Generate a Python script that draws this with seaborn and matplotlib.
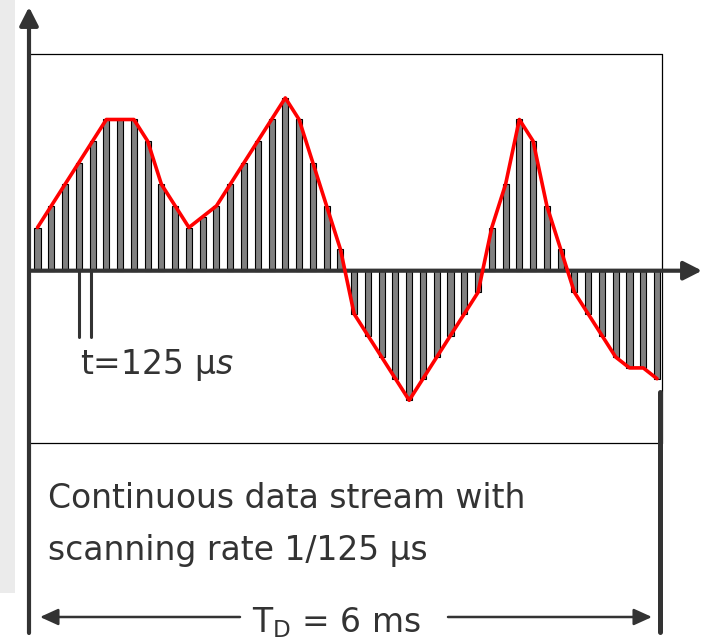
import numpy as np
import matplotlib
matplotlib.use("Agg")
import matplotlib.pyplot as plt
import seaborn as sns
from matplotlib.patches import Rectangle

# Sample values of the scanned signal (one bar every 125 us), in grid units
samples = [2, 3, 4, 5, 6, 7, 7, 7, 6, 4, 3, 2, 2.5, 3, 4, 5, 6, 7, 8, 7, 5, 3, 1,
           -2, -3, -4, -5, -6, -5, -4, -3, -2, -1,
           2, 4, 7, 6, 3, 1,
           -1, -2, -3, -4, -4.5, -4.5, -5]
sample_idx = list(range(len(samples)))

label_tick = "t=125 μ$\\mathit{s}$"
label_stream = ["Continuous data stream with", "scanning rate 1/125 μs"]
label_span = "T$_\\mathrm{D}$ = 6 ms"

DARK = "#333333"
W, H = 702, 642

sns.set_style("white")
plt.rcParams["mathtext.fontset"] = "dejavusans"
plt.rcParams["font.family"] = ["DejaVu Sans"]

fig = plt.figure(figsize=(W / 100, H / 100), dpi=100)
ax = fig.add_axes([0, 0, 1, 1])
ax.axis("off")


def P(x, y):
    # pixel position (from top-left) -> axes fraction
    return (x / W, 1 - y / H)


# bars + red envelope
sns.barplot(x=sample_idx, y=samples, ax=ax, color="#808080", saturation=1,
            edgecolor="black", linewidth=0.8, width=0.44, zorder=2)
sns.lineplot(x=sample_idx, y=samples, ax=ax, color="red", lw=2.6, zorder=5)

# map data units onto the picture: first bar at 37.5 px, 13.77 px apart,
# baseline at 270.7 px, 21.6 px per unit
x0, dx, base, dy = 37.5, 13.767, 270.7, 21.6
ax.set_xlim(-x0 / dx, (W - x0) / dx)
ax.set_ylim(-(H - base) / dy, base / dy)

tr = ax.transAxes

# light grey strip on the left
ax.add_patch(Rectangle(P(0, 593), 15 / W, 593 / H, transform=tr,
                       facecolor="#ebebeb", edgecolor="none", zorder=0))

# thin frame
for (xa, ya), (xb, yb) in [((29, 54), (662, 54)), ((662, 54), (662, 443)),
                           ((29, 443), (662, 443))]:
    ax.plot(*zip(P(xa, ya), P(xb, yb)), transform=tr, color="black", lw=0.9, zorder=3)

# axes arrows
arrow_kw = dict(arrowstyle="-|>,head_length=0.55,head_width=0.28", color=DARK,
                lw=3, shrinkA=0, shrinkB=0, mutation_scale=20)
ax.annotate("", xy=P(29, 7), xytext=P(29, 633), xycoords=tr, textcoords=tr,
            arrowprops=arrow_kw, zorder=4)
ax.annotate("", xy=P(702, base), xytext=P(29, base), xycoords=tr, textcoords=tr,
            arrowprops=arrow_kw, zorder=4)

# right end marker
ax.plot(*zip(P(659.5, 392), P(659.5, 632)), transform=tr, color=DARK, lw=3.6, zorder=4)

# sampling interval marks
for xm in (79, 91):
    ax.plot(*zip(P(xm, base), P(xm, 337)), transform=tr, color=DARK, lw=2.2, zorder=4)

# T_D double arrow
span_kw = dict(arrowstyle="-|>,head_length=0.55,head_width=0.25", color=DARK,
               lw=1.8, shrinkA=0, shrinkB=0, mutation_scale=20)
ax.annotate("", xy=P(40, 617), xytext=P(240, 617), xycoords=tr, textcoords=tr,
            arrowprops=span_kw)
ax.annotate("", xy=P(652, 617), xytext=P(448, 617), xycoords=tr, textcoords=tr,
            arrowprops=span_kw)

# texts
fs = 23.8
ax.text(*P(80, 374), label_tick, transform=tr, fontsize=fs, color=DARK, va="baseline")
ax.text(*P(48, 508), label_stream[0], transform=tr, fontsize=fs, color=DARK, va="baseline")
ax.text(*P(48, 560), label_stream[1], transform=tr, fontsize=fs, color=DARK, va="baseline")
ax.text(*P(252, 632), label_span, transform=tr, fontsize=fs, color=DARK, va="baseline")

fig.savefig("out.png", dpi=100)
